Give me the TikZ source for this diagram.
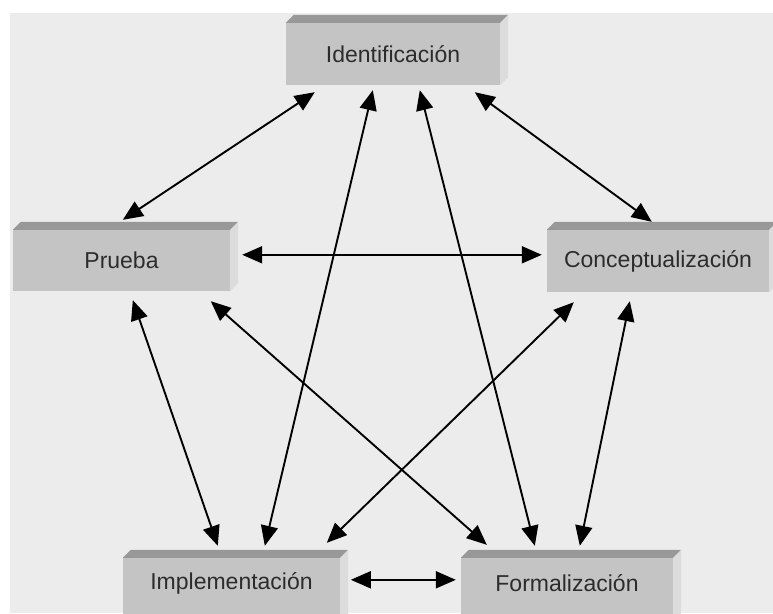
\documentclass[tikz,border=0pt]{standalone}
\usepackage{fontspec}
\setmainfont{Liberation Sans}
\usetikzlibrary{arrows.meta,calc}
\definecolor{panel}{HTML}{ECECEC}
\definecolor{face}{HTML}{C4C4C4}
\definecolor{bevel}{HTML}{989898}
\definecolor{sideface}{HTML}{DCDCDC}
\definecolor{ink}{HTML}{2C2C2C}
\tikzset{
  stagefont/.style={text=ink, font=\fontsize{23}{26}\selectfont},
  stage/.style={rectangle, fill=face, inner sep=0pt, stagefont},
  link/.style={line width=1.9pt, {Triangle[length=20pt,width=17pt]}-{Triangle[length=20pt,width=17pt]}},
}
% a raised box: front face node plus bevelled top and right side
\newcommand{\raisedbox}[6]{%
  \node[stage, minimum width=#4, minimum height=#5] (#1) at (#2,#3) {#6};
  \fill[bevel] (#1.north west) -- ++(8,-8) -- ($(#1.north east)+(8,-8)$) -- (#1.north east) -- cycle;
  \fill[sideface] (#1.north east) -- ++(8,-8) -- ($(#1.south east)+(8,-8)$) -- (#1.south east) -- cycle;
}
\begin{document}
\begin{tikzpicture}[x=1pt,y=-1pt]
  \useasboundingbox (0,0) rectangle (773,613);
  \fill[white] (0,0) rectangle (773,613);
  \fill[panel] (10,13) rectangle (773,613);

  \raisedbox{ident}{393}{54}{214pt}{62pt}{Identificación}
  \raisedbox{prueba}{121.5}{260.5}{217pt}{61pt}{Prueba}
  \raisedbox{concept}{658}{261}{222pt}{62pt}{Conceptualización}
  \raisedbox{impl}{231.5}{593}{217pt}{70pt}{}
  \raisedbox{formal}{567}{593}{212pt}{70pt}{}
  \node[stagefont] (impltext) at (231.5,583) {Implementación};
  \node[stagefont] (formaltext) at (567,583) {Formalización};

  % connectors between the stages
  \draw[link] ($(ident.south west)+(29,7)$) -- ($(prueba.north west)+(110,-10)$);
  \draw[link] ($(ident.south west)+(87,5)$) -- ($(impl.north west)+(142,-12)$);
  \draw[link] ($(ident.south west)+(134,5)$) -- ($(formal.north west)+(74,-12)$);
  \draw[link] ($(ident.south west)+(189,7)$) -- ($(concept.north west)+(105,-8)$);
  \draw[link] ($(prueba.north east)+(12,25)$) -- ($(concept.north west)+(-5,25)$);
  \draw[link] ($(prueba.south west)+(120,9)$) -- ($(impl.north west)+(95,-12)$);
  \draw[link] ($(prueba.south west)+(198,10)$) -- ($(formal.north west)+(26,-13)$);
  \draw[link] ($(concept.south west)+(27,10)$) -- ($(impl.north west)+(204,-15)$);
  \draw[link] ($(concept.south west)+(83,9)$) -- ($(formal.north west)+(119,-12)$);
  \draw[link] ($(impl.north west)+(228,22)$) -- ($(formal.north west)+(-5,22)$);
\end{tikzpicture}
\end{document}
